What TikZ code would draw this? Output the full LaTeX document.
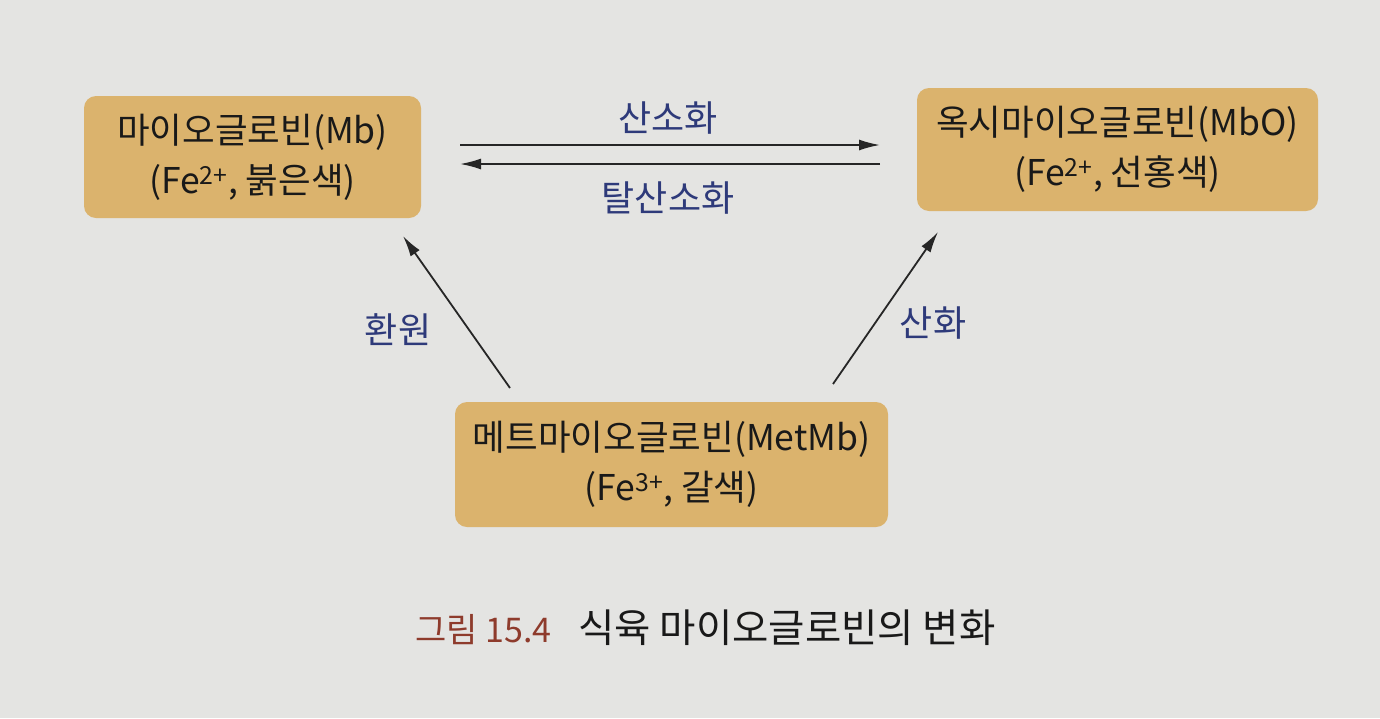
\documentclass[tikz,border=0pt]{standalone}
\usepackage{fontspec}
\setmainfont{Noto Sans CJK KR}
\usetikzlibrary{arrows.meta}
\definecolor{bg}{HTML}{E4E4E2}
\definecolor{boxfill}{HTML}{DBB36D}
\definecolor{lblue}{HTML}{2E3A7A}
\definecolor{capred}{HTML}{8E3B2C}
\tikzset{
  mbox/.style={fill=boxfill, rounded corners=12pt, align=center, inner sep=0pt,
    font=\fontsize{35.5}{50}\selectfont, text=black!90},
  conn/.style={line width=1.8pt, draw=black!85, -{Latex[length=21pt,width=11pt]}},
  lbl/.style={text=lblue, font=\fontsize{36}{40}\selectfont},
  captext/.style={anchor=base west, inner sep=0pt},
}
\begin{document}
\begin{tikzpicture}[x=1pt,y=-1pt]
\fill[bg] (0,0) rectangle (1380,718);
\useasboundingbox (0,0) rectangle (1380,718);
% boxes
\node[mbox, minimum width=337pt, minimum height=122pt] (mb) at (252.5,157) {마이오글로빈(Mb)\\(Fe\textsuperscript{2+}, 붉은색)};
\node[mbox, minimum width=401pt, minimum height=123pt] (mbo) at (1117.5,149.5) {옥시마이오글로빈(MbO)\\(Fe\textsuperscript{2+}, 선홍색)};
\node[mbox, minimum width=433pt, minimum height=125pt] (met) at (671.5,464.5) {메트마이오글로빈(MetMb)\\(Fe\textsuperscript{3+}, 갈색)};
% arrow end points
\coordinate (a1s) at (460,145);
\coordinate (a1e) at (880,145);
\coordinate (a2s) at (880,164);
\coordinate (a2e) at (460,164);
\draw[conn] (a1s) -- (a1e);
\draw[conn] (a2s) -- (a2e);
\node[lbl] (ox) at (668,118) {산소화};
\node[lbl] (deox) at (668,198) {탈산소화};
\coordinate (l1) at (510,388);
\coordinate (l2) at (403,236);
\coordinate (r1) at (833,384);
\coordinate (r2) at (938,232);
\draw[conn] (l1) -- (l2);
\draw[conn] (r1) -- (r2);
\node[lbl] (red) at (398,330) {환원};
\node[lbl] (oxi) at (933,323) {산화};
% caption
\node[captext, text=capred, font=\fontsize{34}{38}\selectfont] (cap1) at (415,642) {그림 15.4};
\node[captext, text=black!90, font=\fontsize{39.5}{44}\selectfont] (cap2) at (578,642) {식육 마이오글로빈의 변화};
\end{tikzpicture}
\end{document}
